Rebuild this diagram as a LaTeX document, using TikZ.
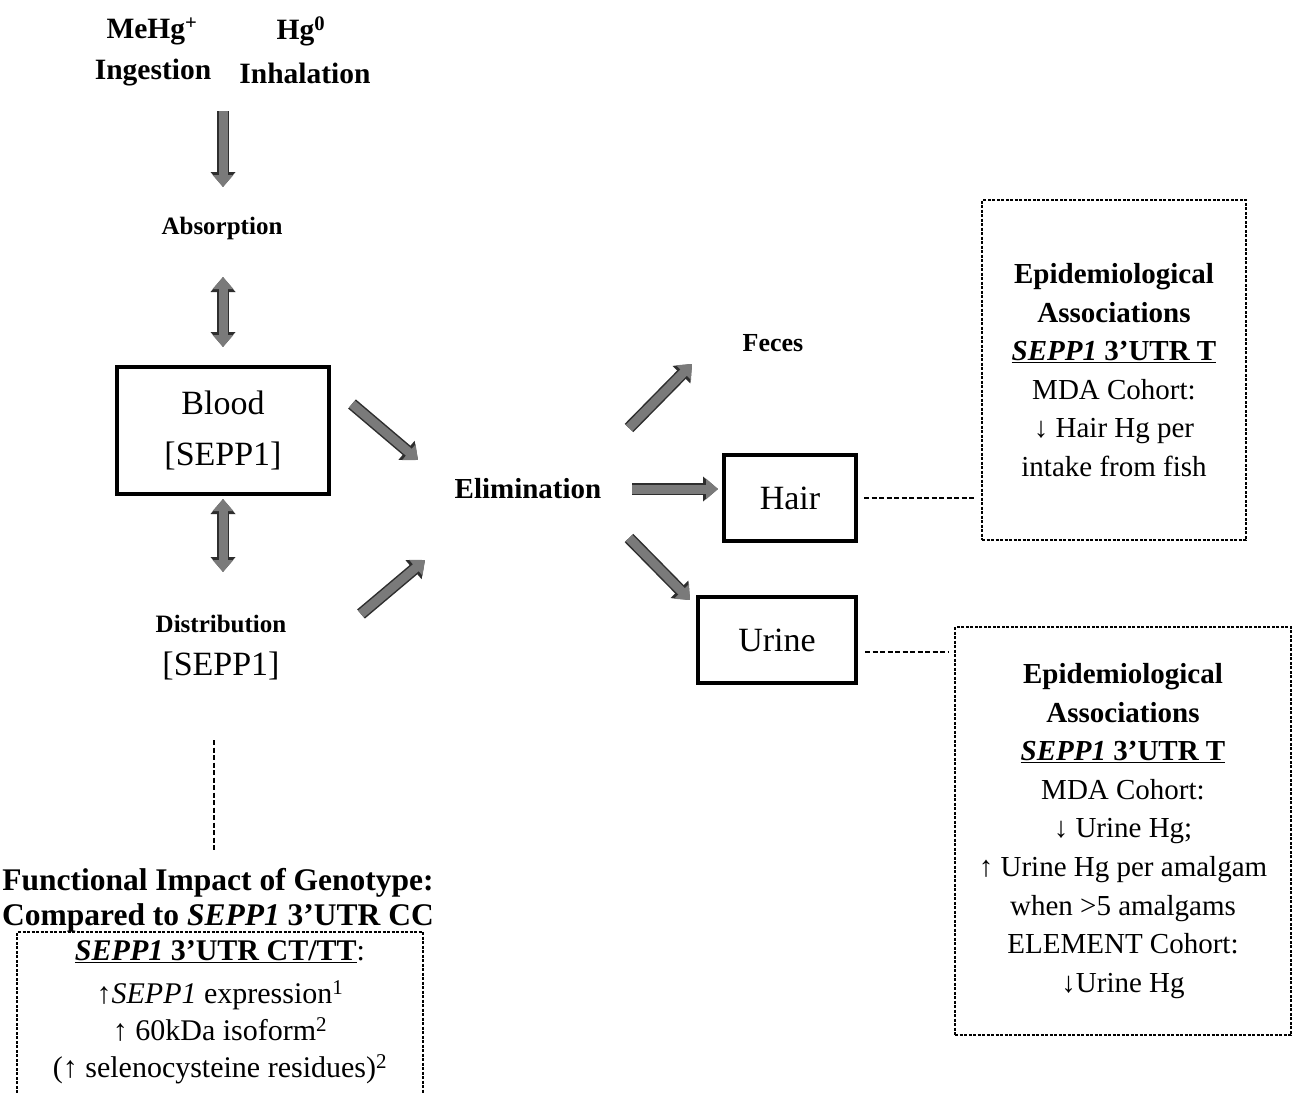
\documentclass[tikz,border=0pt]{standalone}
\usepackage{fontspec}
\setmainfont{Liberation Serif}
\usetikzlibrary{arrows.meta}
\tikzset{
  fat/.style={line width=9pt, draw=black!52, line cap=butt,
    preaction={draw=black!82, line width=12pt, -{Triangle[width=24pt,length=15pt]}},
    -{Triangle[width=20pt,length=12pt]}},
  fatboth/.style={line width=9pt, draw=black!52, line cap=butt,
    preaction={draw=black!82, line width=12pt, {Triangle[width=24pt,length=15pt]}-{Triangle[width=24pt,length=15pt]}},
    {Triangle[width=20pt,length=12pt]}-{Triangle[width=20pt,length=12pt]}},
  headb/.style={font=\fontsize{29.5}{33}\selectfont\bfseries, inner sep=0pt},
  smallb/.style={font=\fontsize{25}{28}\selectfont\bfseries, inner sep=0pt},
  solidbox/.style={draw, line width=4pt, font=\fontsize{34}{51}\selectfont, align=center, inner sep=0pt},
  bigtxt/.style={font=\fontsize{34}{50}\selectfont, inner sep=0pt},
  epibox/.style={draw, line width=1.2pt, dash pattern=on 3pt off 1.5pt, align=center,
    font=\fontsize{29}{38.6}\selectfont, inner sep=0pt},
  dashline/.style={line width=1.6pt, dash pattern=on 5pt off 2.5pt},
}
\begin{document}
\begin{tikzpicture}[x=1pt,y=-1pt]
\useasboundingbox[fill=white] (0,0) rectangle (1297,1092);

% top labels
\node[headb] (mehg) at (152,31) {MeHg\textsuperscript{+}};
\node[headb] (hg0) at (301,31) {Hg\textsuperscript{0}};
\node[headb] (ingest) at (153,73) {Ingestion};
\node[headb] (inhal) at (305,73) {Inhalation};

\node[smallb] (absorp) at (222,228) {Absorption};

\node[solidbox, minimum width=212pt, minimum height=127pt] (blood) at (223,430) {Blood\\{}[SEPP1]};

\node[smallb] (distr) at (221,624) {Distribution};
\node[bigtxt] (distsepp) at (221,666) {[SEPP1]};

\node[font=\fontsize{29}{32}\selectfont\bfseries, inner sep=0pt] (elim) at (528,489) {Elimination};
\node[font=\fontsize{26}{30}\selectfont\bfseries, inner sep=0pt] (feces) at (773,343) {Feces};

\node[solidbox, minimum width=132pt, minimum height=86pt] (hair) at (790,498) {Hair};
\node[solidbox, minimum width=158pt, minimum height=86pt] (urine) at (777,640) {Urine};

\node[epibox, minimum width=264pt, minimum height=340pt] (epi1) at (1114,370)
  {\textbf{Epidemiological}\\ \textbf{Associations}\\
   \underline{\textbf{\textit{SEPP1} 3’UTR T}}\\ MDA Cohort:\\ ↓ Hair Hg per\\ intake from fish};

\node[epibox, minimum width=336pt, minimum height=408pt] (epi2) at (1123,831)
  {\textbf{Epidemiological}\\ \textbf{Associations}\\
   \underline{\textbf{\textit{SEPP1} 3’UTR T}}\\ MDA Cohort:\\ ↓ Urine Hg;\\
   ↑ Urine Hg per amalgam\\ when >5 amalgams\\ ELEMENT Cohort:\\ ↓Urine Hg};

\node[font=\fontsize{31.5}{35}\selectfont\bfseries, align=center, inner sep=0pt] (funchead) at (218,900)
  {Functional Impact of Genotype:\\ Compared to \textit{SEPP1} 3’UTR CC};

\node[font=\fontsize{30}{37}\selectfont, align=center, inner sep=0pt] (functxt) at (220,1012)
  {\underline{\textbf{\textit{SEPP1} 3’UTR CT/TT}}:\\[6pt]
   ↑\textit{SEPP1} expression\textsuperscript{1}\\
   ↑ 60kDa isoform\textsuperscript{2}\\
   (↑ selenocysteine residues)\textsuperscript{2}};
\draw[line width=1.2pt, dash pattern=on 3pt off 1.5pt] (17,1120) -- (17,932) -- (423,932) -- (423,1120);

% arrow coordinates
\coordinate (a1s) at (223,111); \coordinate (a1e) at (223,187);
\coordinate (a2s) at (223,277); \coordinate (a2e) at (223,347);
\coordinate (a3s) at (223,499); \coordinate (a3e) at (223,572);
\coordinate (a4s) at (352,404); \coordinate (a4e) at (418,460);
\coordinate (a5s) at (361,614); \coordinate (a5e) at (425,560);
\coordinate (a6s) at (632,489); \coordinate (a6e) at (718,489);
\coordinate (a7s) at (629,428); \coordinate (a7e) at (692,364);
\coordinate (a8s) at (629,538); \coordinate (a8e) at (690,600);

\draw[fat] (a1s) -- (a1e);
\draw[fatboth] (a2s) -- (a2e);
\draw[fatboth] (a3s) -- (a3e);
\draw[fat] (a4s) -- (a4e);
\draw[fat] (a5s) -- (a5e);
\draw[fat] (a6s) -- (a6e);
\draw[fat] (a7s) -- (a7e);
\draw[fat] (a8s) -- (a8e);

% dashed connectors
\draw[dashline, shorten <=6pt, shorten >=7pt] (hair.east) -- (hair.east -| epi1.west);
\draw[dashline, shorten <=7pt, shorten >=5pt] (urine.east |- 0,652) -- (epi2.west |- 0,652);
\coordinate (vtop) at (214,740);
\draw[dashline, shorten >=16pt] (vtop) -- (funchead.north -| vtop);
\end{tikzpicture}
\end{document}
